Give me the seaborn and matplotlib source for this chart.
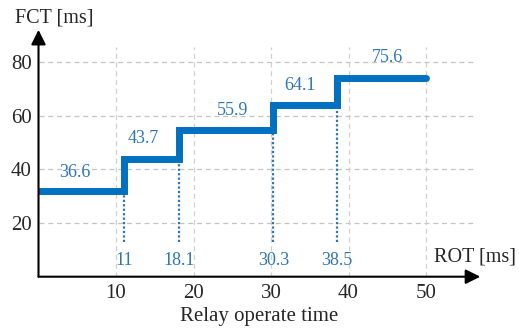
import matplotlib
matplotlib.use('Agg')
import matplotlib.pyplot as plt
import seaborn as sns
import pandas as pd

# step points of the curve (ROT -> FCT level drawn)
rot_steps = [0, 11, 18.1, 30.3, 38.5, 50]
fct_levels = [32, 44, 54.5, 64, 74, 74]
# printed FCT value of each level and where it sits
fct_labels = ["36.6", "43.7", "55.9", "64.1", "75.6"]
fct_label_x = [4.7, 13.5, 25, 33.7, 45]
fct_label_y = [38.8, 51.5, 62, 71.2, 81.6]
# operate time markers
rot_marks = [11, 18.1, 30.3, 38.5]
rot_mark_labels = ["11", "18.1", "30.3", "38.5"]
rot_mark_top = [32, 44, 54.5, 64]

x_ticks = [10, 20, 30, 40, 50]
y_ticks = [20, 40, 60, 80]

blue = "#0070C0"
text_blue = "#2E75B6"

sns.set_style("white")
plt.rcParams['font.family'] = ['Liberation Serif', 'DejaVu Serif']

df = pd.DataFrame({"rot": rot_steps, "fct": fct_levels})

fig = plt.figure(figsize=(5.19, 3.3), dpi=100)
W, H = 519, 330
x0, y0 = 38.5, 276.7
sx, sy = 7.75, 2.683
xmax, ymax = 57, 92
ax = fig.add_axes([x0 / W, (H - y0) / H, xmax * sx / W, ymax * sy / H])
ax.set_xlim(0, xmax)
ax.set_ylim(0, ymax)

# grid (drawn by hand so it stops short of the arrows)
ax.hlines(y_ticks, 0, 56, colors="#c4c4c4", linestyles=(0, (4, 3)), linewidth=0.9, zorder=1)
ax.vlines(x_ticks, 0, 85.5, colors="#d0d0d0", linestyles=(0, (4, 3)), linewidth=0.9, zorder=1)

# dotted drop lines
ax.vlines(rot_marks, 13, rot_mark_top, colors=text_blue, linestyles=(0, (1, 1)), linewidth=1.6, zorder=2)

sns.lineplot(data=df, x="rot", y="fct", drawstyle="steps-post", color=blue,
             linewidth=5, ax=ax, zorder=3, solid_capstyle="round",
             solid_joinstyle="miter")

for t, xx, yy in zip(fct_labels, fct_label_x, fct_label_y):
    ax.text(xx, yy, t, color=text_blue, fontsize=13, ha="center", va="center")
for t, xx in zip(rot_mark_labels, rot_marks):
    ax.text(xx, 6.2, t, color=text_blue, fontsize=13, ha="center", va="center")

for s in ax.spines.values():
    s.set_visible(False)

# axes with arrow heads
ax.annotate("", xy=(xmax, 0), xytext=(0, 0), annotation_clip=False,
            arrowprops=dict(arrowstyle="-|>", color="black", lw=1.5,
                            mutation_scale=22, shrinkA=0, shrinkB=0))
ax.annotate("", xy=(0, 92), xytext=(0, 0), annotation_clip=False,
            arrowprops=dict(arrowstyle="-|>", color="black", lw=1.5,
                            mutation_scale=22, shrinkA=0, shrinkB=0))

ax.set_xticks(x_ticks)
ax.set_yticks(y_ticks)
ax.tick_params(length=0, labelsize=15, pad=5)
ax.set_xlabel("Relay operate time", fontsize=15, labelpad=3)
ax.set_ylabel("")

fig.text(15 / W, 1 - 18 / H, "FCT [ms]", fontsize=14.5, ha="left", va="center")
fig.text(516 / W, 1 - 257 / H, "ROT [ms]", fontsize=14.5, ha="right", va="center")

fig.savefig("out.png", dpi=100)
